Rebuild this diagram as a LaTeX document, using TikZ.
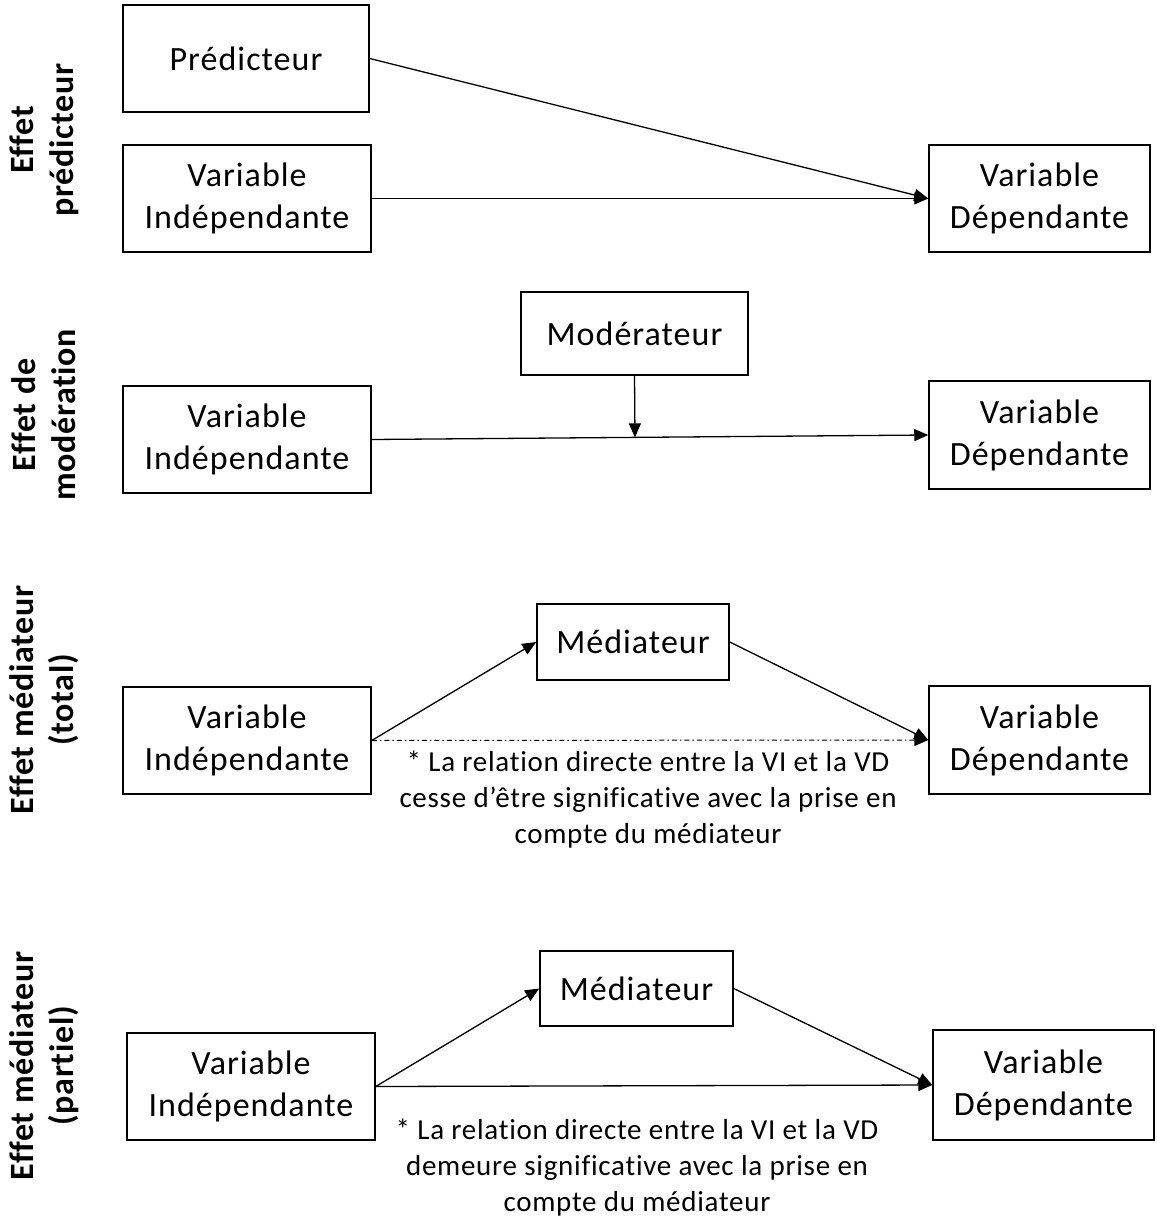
\documentclass[tikz,border=0pt]{standalone}
\usepackage{fontspec}
\setmainfont{Carlito}[Ligatures=CommonOff]
\usetikzlibrary{arrows.meta,calc}
\begin{document}
\begin{tikzpicture}[x=1pt,y=-1pt,
  box/.style={draw=black,line width=1.5pt,inner sep=0pt,align=center,font=\fontsize{34}{42}\selectfont\addfontfeatures{LetterSpace=3}},
  conn/.style={line width=1.3pt,-{Triangle[length=14pt,width=12pt]}},
  note/.style={align=center,font=\fontsize{29}{36}\selectfont\addfontfeatures{LetterSpace=2.5}},
  side/.style={align=center,rotate=90,font=\bfseries\fontsize{34}{40}\selectfont\addfontfeatures{LetterSpace=2}}]
\useasboundingbox (0,0) rectangle (1156,1222);
% Section 1
\node[box,minimum width=246pt,minimum height=107pt] (P) at (246,58.5) {Prédicteur};
\node[box,minimum width=248pt,minimum height=107pt] (VI1) at (247,198.5) {Variable\\Indépendante};
\node[box,minimum width=221pt,minimum height=107pt] (VD1) at (1039.5,198.5) {Variable\\Dépendante};
\draw[conn] (P.east) -- (VD1.west);
\draw[conn] (VI1.east) -- (VD1.west);
\node[side] (S1) at (44,140) {Effet\\prédicteur};
% Section 2
\node[box,minimum width=227pt,minimum height=83pt] (Mod) at (634.5,333.5) {Modérateur};
\node[box,minimum width=248pt,minimum height=107pt] (VI2) at (247,439.5) {Variable\\Indépendante};
\node[box,minimum width=221pt,minimum height=108pt] (VD2) at (1039.5,435) {Variable\\Dépendante};
\draw[conn] (VI2.east) -- (VD2.west);
\coordinate (M2) at ($(VI2.east)!(Mod.south)!(VD2.west)$);
\draw[conn] (Mod.south) -- (M2);
\node[side] (S2) at (44,415) {Effet de\\modération};
% Section 3
\node[box,minimum width=192pt,minimum height=76pt] (Med3) at (633,642) {Médiateur};
\node[box,minimum width=248pt,minimum height=107pt] (VI3) at (247,740.5) {Variable\\Indépendante};
\node[box,minimum width=221pt,minimum height=108pt] (VD3) at (1039.5,740) {Variable\\Dépendante};
\draw[conn] (VI3.east) -- (Med3.west);
\draw[conn] (Med3.east) -- (VD3.west);
\draw[conn,dash pattern=on 5pt off 3pt on 1.5pt off 3pt,line width=1pt] (VI3.east) -- (VD3.west);
\node[note] (N3) at (648,800) {* La relation directe entre la VI et la VD\\cesse d’être significative avec la prise en\\compte du médiateur};
\node[side] (S3) at (44,700) {Effet médiateur\\(total)};
% Section 4
\node[box,minimum width=193pt,minimum height=75pt] (Med4) at (636.5,988.5) {Médiateur};
\node[box,minimum width=248pt,minimum height=107pt] (VI4) at (251,1086.5) {Variable\\Indépendante};
\node[box,minimum width=221pt,minimum height=110pt] (VD4) at (1043.5,1085) {Variable\\Dépendante};
\draw[conn] (VI4.east) -- (Med4.west);
\draw[conn] (Med4.east) -- (VD4.west);
\draw[conn] (VI4.east) -- (VD4.west);
\node[note] (N4) at (637,1168) {* La relation directe entre la VI et la VD\\demeure significative avec la prise en\\compte du médiateur};
\node[side] (S4) at (44,1066) {Effet médiateur\\(partiel)};
\end{tikzpicture}
\end{document}
